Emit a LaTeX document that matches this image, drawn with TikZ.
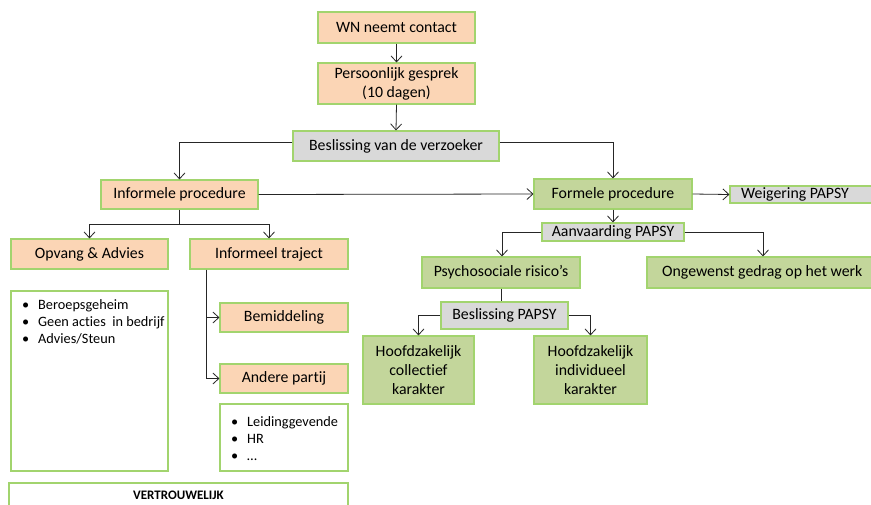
\documentclass[tikz,border=0pt]{standalone}
\usepackage{fontspec}
\setmainfont{Carlito}[Ligatures=NoCommon]
\usetikzlibrary{arrows.meta,calc}
\definecolor{peach}{HTML}{FBD5B5}
\definecolor{olive}{HTML}{C3D69B}
\definecolor{greyf}{HTML}{D9D9D9}
\definecolor{bord}{HTML}{A2D46E}
\definecolor{lin}{HTML}{262626}
\tikzset{
  box/.style={draw=bord, line width=1.1pt, inner sep=0pt, align=center, font=\fontsize{15.8}{19}\selectfont},
  orbox/.style={box, fill=peach},
  grbox/.style={box, fill=olive},
  gybox/.style={box, fill=greyf},
  whbox/.style={box, fill=white},
  conn/.style={draw=lin, line width=0.8pt},
  arr/.style={conn, -{Straight Barb[length=6pt,width=11pt,line width=0.8pt]}},
  bul/.style={inner sep=0pt, align=flush left, anchor=north west, font=\fontsize{14.3}{17}\selectfont},
}
\newcommand{\bt}{\makebox[16pt][l]{•}}
\begin{document}
\begin{tikzpicture}[x=1pt,y=-1pt]
\useasboundingbox (0,0) rectangle (871,504);
\clip (0,0) rectangle (871,504);
\fill[white] (0,0) rectangle (871,504);
% top
\node[orbox, minimum width=157, minimum height=31] (wn) at (396.5,27.5) {WN neemt contact};
\node[orbox, minimum width=157, minimum height=41] (pg) at (396.5,83.5) {Persoonlijk gesprek\\(10 dagen)};
\node[gybox, minimum width=206, minimum height=30] (bv) at (396,146) {Beslissing van de verzoeker};
% left branch
\node[orbox, minimum width=157, minimum height=29] (ip) at (179.5,194.5) {Informele procedure};
\node[orbox, minimum width=157, minimum height=30] (oa) at (89.5,254) {Opvang \& Advies};
\node[orbox, minimum width=158, minimum height=30] (it) at (269,254) {Informeel traject};
\node[whbox, minimum width=157, minimum height=180] (bl) at (89.5,381) {};
\node[bul] (blt) at (22,299) {\bt Beroepsgeheim\\\bt Geen acties\ \ in bedrijf\\\bt Advies/Steun};
\node[orbox, minimum width=128, minimum height=29] (bem) at (284,317.5) {Bemiddeling};
\node[orbox, minimum width=128, minimum height=29] (ap) at (284,378.5) {Andere partij};
\node[whbox, minimum width=128, minimum height=67] (lh) at (284,437.5) {};
\node[bul] (lht) at (231,416) {\bt Leidinggevende\\\bt HR\\\bt …};
\node[whbox, minimum width=339, minimum height=40] (vt) at (178.5,503) {};
\node[inner sep=0pt, font=\fontsize{13}{15}\selectfont\bfseries] (vtt) at (178.5,495.5) {VERTROUWELIJK};
% right branch
\node[grbox, minimum width=158, minimum height=30] (fp) at (613,194) {Formele procedure};
\node[gybox, minimum width=150, minimum height=17] (wp) at (805,194.5) {};
\node[inner sep=0pt, anchor=west, font=\fontsize{15.8}{19}\selectfont] (wpt) at (741,194.5) {Weigering PAPSY};
\node[gybox, minimum width=142, minimum height=18] (av) at (613,232) {Aanvaarding PAPSY};
\node[grbox, minimum width=158, minimum height=31] (ps) at (501,272.5) {Psychosociale risico’s};
\node[grbox, minimum width=232, minimum height=31] (og) at (763,272.5) {};
\node[inner sep=0pt, anchor=west, font=\fontsize{15.8}{19}\selectfont] (ogt) at (662,272.5) {Ongewenst gedrag op het werk};
\node[gybox, minimum width=127, minimum height=27] (bp) at (504.5,315.5) {Beslissing PAPSY};
\node[grbox, minimum width=111, minimum height=68] (hc) at (418.5,370) {Hoofdzakelijk\\collectief\\karakter};
\node[grbox, minimum width=113, minimum height=68] (hi) at (590.5,370) {Hoofdzakelijk\\individueel\\karakter};
% helper coordinates
\coordinate (yb) at (0,142);
\coordinate (yi) at (0,224);
\coordinate (xi) at (206,0);
\coordinate (xo) at (763,0);
\coordinate (xp) at (502,0);
% connectors
\draw[arr] (wn.south) -- (pg.north);
\draw[arr] (pg.south) -- (bv.north);
\draw[arr] (bv.west |- yb) -- (ip.north |- yb) -- (ip.north);
\draw[arr] (bv.east |- yb) -- (fp.north |- yb) -- (fp.north);
\draw[arr] (ip.east) -- (fp.west);
\draw[conn] (ip.south) -- (ip.south |- yi);
\draw[arr] (ip.south |- yi) -- (oa.north |- yi) -- (oa.north);
\draw[arr] (ip.south |- yi) -- (it.north |- yi) -- (it.north);
\draw[arr] (xi |- it.south) -- (xi |- ap.west) -- (ap.west);
\draw[arr] (xi |- bem.west) -- (bem.west);
\draw[arr] (fp.east) -- (wp.west);
\draw[arr] (fp.south) -- (av.north);
\draw[arr] (av.west) -- (xp |- av.west) -- (xp |- ps.north);
\draw[arr] (av.east) -- (xo |- av.east) -- (xo |- og.north);
\draw[conn] (ps.south) -- (ps.south |- bp.north);
\draw[arr] (bp.west) -- (hc.north |- bp.west) -- (hc.north);
\draw[arr] (bp.east) -- (hi.north |- bp.east) -- (hi.north);
\end{tikzpicture}
\end{document}
